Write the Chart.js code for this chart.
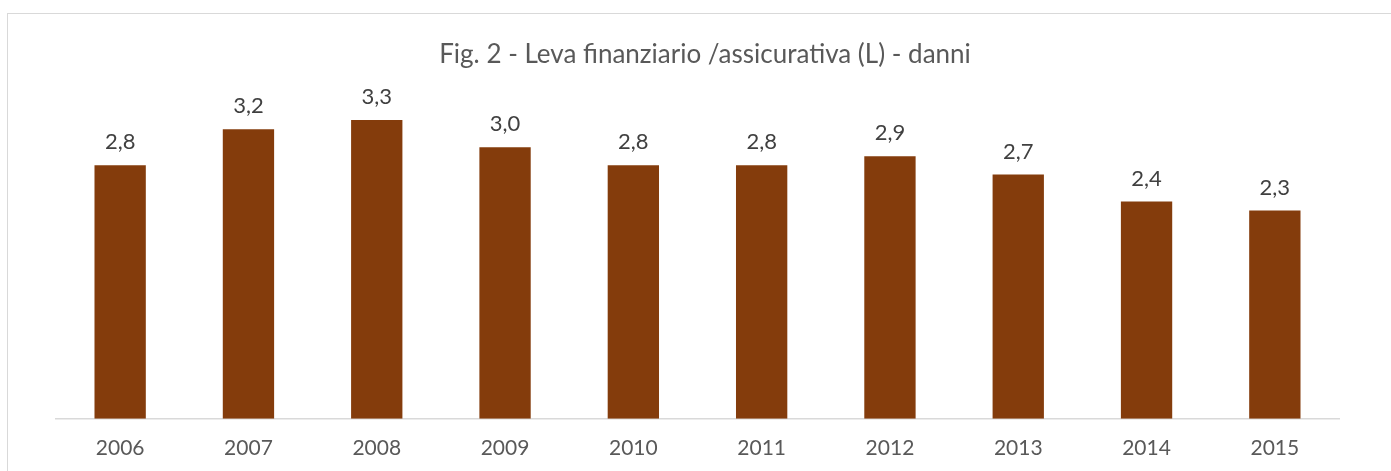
<!DOCTYPE html>
<html>
<head>
<meta charset="utf-8">
<script src="https://cdn.jsdelivr.net/npm/chart.js@4"></script>
<style>
    html, body { margin: 0; padding: 0; background: #fff; }
    #wrap { position: relative; width: 1391px; height: 471px; overflow: hidden; }
    #frame { position: absolute; left: 7px; top: 13px; width: 1400px; height: 480px; border: 1.5px solid #d9d9d9; }
    #leva { position: absolute; left: 0; top: 0; }
</style>
</head>
<body>
<div id="wrap">
    <div id="frame"></div>
    <canvas id="leva" width="1391" height="471"></canvas>
</div>
<script>
// dati
const anni = ['2006', '2007', '2008', '2009', '2010', '2011', '2012', '2013', '2014', '2015'];
const leva = [2.8, 3.2, 3.3, 3.0, 2.8, 2.8, 2.9, 2.7, 2.4, 2.3];
const titolo = 'Fig. 2 - Leva finanziario /assicurativa (L) - danni';

const FONT = "Lato, 'Liberation Sans', sans-serif";

// titolo ed etichette sopra le barre (formato italiano con virgola)
const etichette = {
    id: 'etichette',
    afterDatasetsDraw(chart) {
        const ctx = chart.ctx;
        const meta = chart.getDatasetMeta(0);
        ctx.save();
        ctx.textAlign = 'center';
        ctx.textBaseline = 'middle';

        ctx.font = '26px ' + FONT;
        ctx.fillStyle = '#595959';
        ctx.fillText(titolo, 705, 55);

        ctx.font = '22px ' + FONT;
        ctx.fillStyle = '#404040';
        meta.data.forEach((bar, i) => {
            ctx.fillText(leva[i].toFixed(1).replace('.', ','), bar.x, bar.y - 23);
        });
        ctx.restore();
    }
};

new Chart(document.getElementById('leva').getContext('2d'), {
    type: 'bar',
    data: {
        labels: anni,
        datasets: [{
            data: leva,
            backgroundColor: '#843C0C',
            borderWidth: 0,
            barPercentage: 0.4,
            categoryPercentage: 1.0
        }]
    },
    options: {
        responsive: false,
        animation: false,
        layout: {
            padding: { left: 56, right: 52, top: 102, bottom: -7 }
        },
        plugins: {
            legend: { display: false },
            tooltip: { enabled: false },
            title: { display: false }
        },
        scales: {
            x: {
                grid: { display: false, drawTicks: false },
                border: { display: true, color: '#d9d9d9', width: 1.5 },
                ticks: {
                    color: '#595959',
                    font: { family: FONT, size: 21 },
                    padding: 17,
                    maxRotation: 0
                }
            },
            y: {
                display: false,
                min: 0,
                max: 3.5
            }
        }
    },
    plugins: [etichette]
});
</script>
</body>
</html>
